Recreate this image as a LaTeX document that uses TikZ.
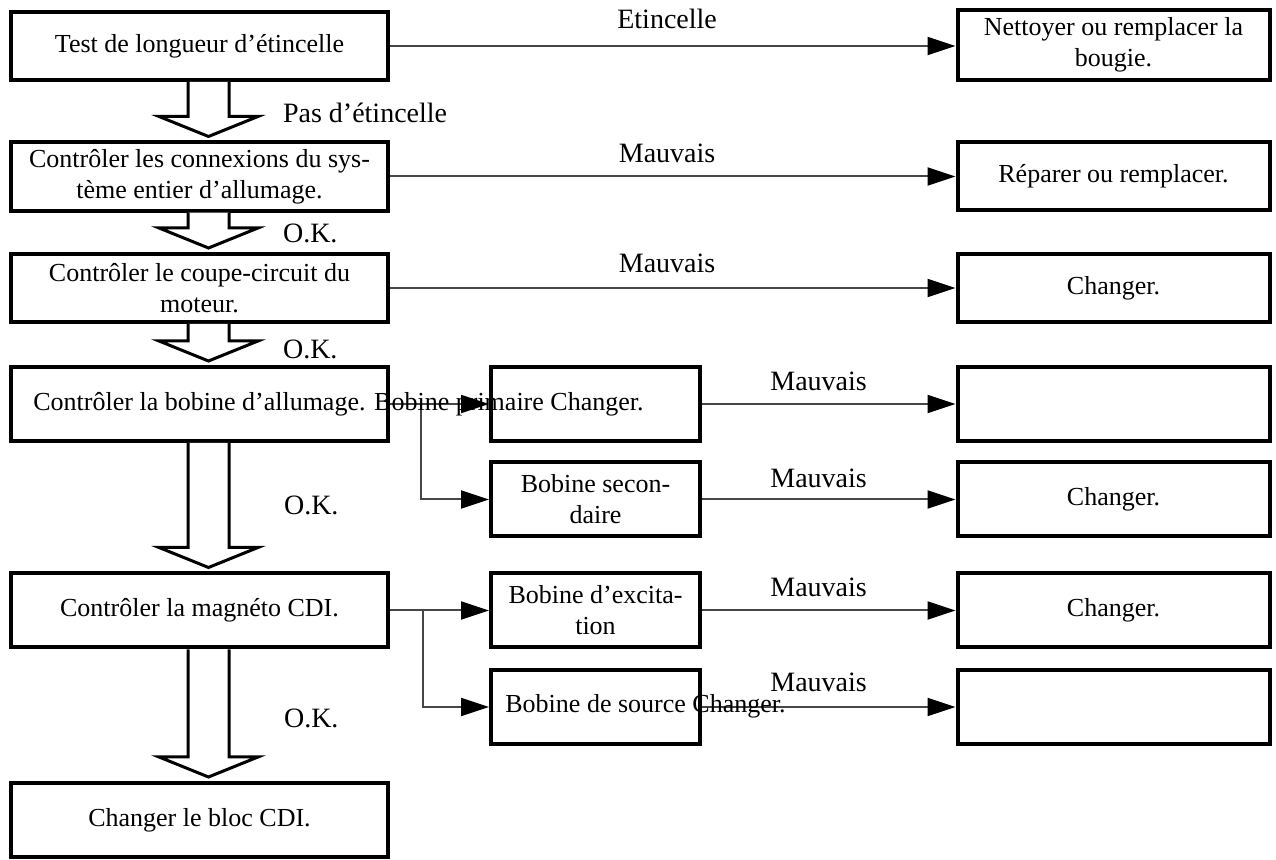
\documentclass[tikz,border=0pt]{standalone}
\usepackage{fontspec}
\setmainfont{Liberation Serif}
\usepackage{tikz}
\usetikzlibrary{arrows.meta,calc,positioning}
\definecolor{fcline}{RGB}{70,70,70}
\newcommand{\okarrow}[2]{%
  \draw[okarr] let \p1=(ax |- #1.south), \p2=(ax |- #2.north) in
    (\x1-10.25pt,\y1) -- (\x1-10.25pt,\y2+12pt) -- (\x1-24.75pt,\y2+12pt) -- (\x1,\y2+2pt)
    -- (\x1+24.75pt,\y2+12pt) -- (\x1+10.25pt,\y2+12pt) -- (\x1+10.25pt,\y1);}

\begin{document}
\begin{tikzpicture}[x=.5pt,y=-.5pt,font=\fontsize{13}{15.5}\selectfont,>={Triangle[length=14pt,width=9pt,color=black]},
    box/.style={draw,line width=2pt,align=center},
    lbox/.style={box,minimum width=188.5pt,minimum height=34pt},
    mbox/.style={box,minimum width=104.5pt,minimum height=37pt},
    rbox/.style={box,minimum width=156pt,minimum height=34pt},
    tall/.style={minimum height=37pt},
    lbl/.style={font=\fontsize{14}{16}\selectfont},
    conn/.style={draw=fcline,line width=1pt,->},
    okarr/.style={draw,line width=1.5pt,fill=white}]
    \useasboundingbox (0,0) rectangle (1276,860);
    \node[lbox] (b1) at (199.5,46) {Test de longueur d'étincelle};
    \node[lbox] (b2) at (199.5,176.5) {Contrôler les connexions du sys-\\tème entier d'allumage.};
    \node[lbox] (b3) at (199.5,288) {Contrôler le coupe-circuit du\\moteur.};
    \node[lbox,tall] (b4) at (199.5,404) {};
    \node[lbox,tall] (b5) at (199.5,610.5) {Contrôler la magnéto CDI.};
    \node[lbox,tall] (b6) at (199.5,820) {Changer le bloc CDI.};
    \node[mbox] (m1) at (595.5,404) {};
    \node[mbox] (m2) at (595.5,499.5) {Bobine secon-\\daire};
    \node[mbox] (m3) at (595.5,610.5) {Bobine d'excita-\\tion};
    \node[mbox] (m4) at (595.5,707) {};
    \node[rbox,minimum height=35pt] (r1) at (1113.5,45) {Nettoyer ou remplacer la\\bougie.};
    \node[rbox] (r2) at (1113.5,176.5) {Réparer ou remplacer.};
    \node[rbox] (r3) at (1113.5,288) {Changer.};
    \node[rbox,tall] (r4) at (1113.5,404) {};
    \node[rbox,tall] (r5) at (1113.5,499.5) {Changer.};
    \node[rbox,tall] (r6) at (1113.5,610.5) {Changer.};
    \node[rbox,tall] (r7) at (1113.5,707) {};
    \coordinate (ax) at (208.5,0);
    \okarrow{b1}{b2} \okarrow{b2}{b3} \okarrow{b3}{b4} \okarrow{b4}{b5} \okarrow{b5}{b6}
    \node[lbl,anchor=west] (pas) at (276,113) {Pas d'étincelle};
    \node[lbl,anchor=west] (ok1) at (276,233) {O.K.};
    \node[lbl,anchor=west] (ok2) at (276,349) {O.K.};
    \node[lbl,anchor=west] (ok3) at (277,505) {O.K.};
    \node[lbl,anchor=west] (ok4) at (277,718) {O.K.};
    \draw[conn] (b1.east) -- node[lbl,above=5pt,pos=.49]{Etincelle} (b1.east -| r1.west);
    \draw[conn] (b2.east) -- node[lbl,above=3pt,pos=.49]{Mauvais} (r2.west);
    \draw[conn] (b3.east) -- node[lbl,above=4pt,pos=.49]{Mauvais} (r3.west);
    \coordinate (j1) at (421,404); \coordinate (j2) at (423,610.5);
    \draw[conn] (b4.east) -- (m1.west); \draw[conn] (j1) |- (m2.west);
    \draw[conn] (b5.east) -- (m3.west); \draw[conn] (j2) |- (m4.west);
    \draw[conn] (m1.east) -- node[lbl,above=3pt,pos=.46]{Mauvais} (r4.west);
    \draw[conn] (m2.east) -- node[lbl,above=2pt,pos=.46]{Mauvais} (r5.west);
    \draw[conn] (m3.east) -- node[lbl,above=3pt,pos=.46]{Mauvais} (r6.west);
    \draw[conn] (m4.east) -- node[lbl,above=4pt,pos=.46]{Mauvais} (r7.west);
    \node[anchor=west,inner sep=0pt] (t4) at (33,404) {Contrôler la bobine d'allumage. Bobine primaire Changer.};
    \node[anchor=west,inner sep=0pt] (t7) at (505,706) {Bobine de source Changer.};
  \end{tikzpicture}
\end{document}
